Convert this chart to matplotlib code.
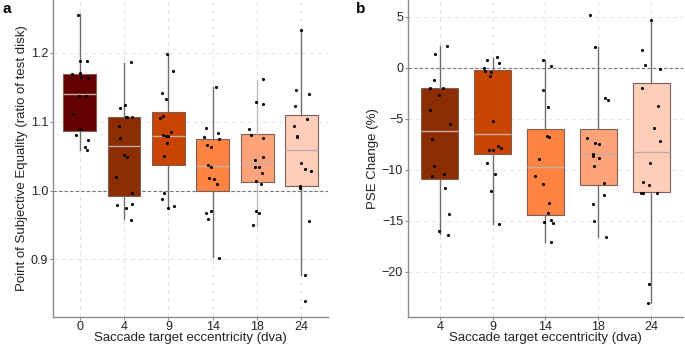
import numpy as np
import matplotlib
matplotlib.use('Agg')
import matplotlib.pyplot as plt

plt.rcParams['font.family'] = ['Liberation Sans', 'DejaVu Sans']

# ---------------- panel a: PSE ----------------
cats_a = ['0', '4', '9', '14', '18', '24']
q1_a = [1.0865, 0.9918, 1.0372, 1.000, 1.0121, 1.0063]
med_a = [1.1396, 1.0643, 1.0797, 1.0357, 1.0396, 1.0585]
q3_a = [1.170, 1.1063, 1.114, 1.0754, 1.0821, 1.1092]
lo_a = [1.059, 0.958, 0.9739, 0.9029, 0.9488, 0.8773]
hi_a = [1.257, 1.1855, 1.1986, 1.1507, 1.1614, 1.2329]

pts_a = [
    [1.2556, 1.189, 1.189, 1.170, 1.171, 1.165, 1.163, 1.137, 1.137, 1.111, 1.089, 1.080, 1.073, 1.063, 1.059],
    [1.1865, 1.1237, 1.1193, 1.107, 1.107, 1.107, 1.094, 1.077, 1.052, 1.048, 1.019, 0.9957, 0.979, 0.981, 0.9744, 0.9575],
    [1.1986, 1.174, 1.1415, 1.133, 1.108, 1.1058, 1.0855, 1.0807, 1.079, 1.0787, 1.0686, 1.0507, 0.9966, 0.987, 0.974, 0.978],
    [1.1507, 1.0913, 1.084, 1.0783, 1.0744, 1.0662, 1.0633, 1.0367, 1.0343, 1.0179, 1.0164, 1.0101, 0.9667, 0.9696, 0.9585, 0.9024],
    [1.1623, 1.128, 1.1251, 1.0889, 1.0807, 1.0758, 1.0444, 1.0483, 1.0343, 1.0343, 1.0261, 1.0135, 1.0092, 0.9696, 0.9676, 0.9498],
    [1.2329, 1.1459, 1.1401, 1.1232, 1.1043, 1.0937, 1.0787, 1.0773, 1.0396, 1.0314, 1.028, 1.0068, 1.0034, 0.956, 0.8773, 0.8396],
]
jit_a = [
    [-0.04, 0.0, 0.16, -0.17, 0.01, 0.04, 0.18, -0.01, 0.15, -0.15, 0.01, -0.08, 0.19, 0.12, 0.16],
    [0.15, 0.03, -0.10, 0.05, 0.07, 0.19, -0.11, -0.08, 0.01, 0.07, -0.19, 0.17, -0.15, 0.19, 0.05, 0.16],
    [-0.03, 0.10, -0.14, -0.06, -0.12, -0.18, 0.07, -0.13, -0.05, 0.0, -0.04, -0.10, -0.10, -0.14, -0.01, 0.12],
    [0.07, -0.15, 0.11, -0.19, 0.15, -0.14, -0.03, -0.11, -0.05, -0.09, 0.02, 0.10, -0.16, -0.05, -0.10, 0.13],
    [0.13, -0.02, 0.13, -0.19, -0.14, 0.13, -0.05, 0.13, -0.05, 0.04, 0.10, -0.02, 0.08, -0.02, 0.05, -0.10],
    [-0.01, -0.12, 0.17, -0.14, 0.13, -0.16, -0.09, -0.10, 0.0, 0.08, 0.22, -0.04, -0.04, 0.17, 0.07, 0.09],
]

# ---------------- panel b: PSE change ----------------
cats_b = ['4', '9', '14', '18', '24']
q1_b = [-10.92, -8.43, -14.41, -11.54, -12.22]
med_b = [-6.21, -6.47, -9.74, -8.50, -8.27]
q3_b = [-1.99, -0.26, -6.05, -5.98, -1.47]
lo_b = [-16.27, -15.29, -17.09, -16.60, -23.04]
hi_b = [2.09, 0.98, 0.72, 2.06, 4.71]

pts_b = [
    [2.12, 1.31, -1.18, -1.99, -1.99, -2.71, -4.15, -5.49, -6.96, -9.61, -10.59, -10.42, -11.76, -14.38, -16.05, -16.37],
    [1.01, 0.72, 0.46, 0.0, -0.36, -0.39, -0.78, -5.23, -8.07, -8.07, -7.65, -7.88, -9.31, -10.39, -12.09, -15.36],
    [0.72, 0.16, -2.16, -3.89, -6.73, -6.83, -8.92, -10.65, -11.37, -13.27, -14.25, -15.13, -14.90, -15.20, -17.06],
    [5.16, 2.06, -2.94, -3.14, -6.90, -7.39, -7.52, -8.50, -8.63, -8.86, -9.61, -11.27, -13.40, -12.48, -15.00, -16.63],
    [4.71, 1.76, 0.23, -0.10, -1.96, -3.73, -5.92, -7.19, -9.38, -11.21, -11.54, -12.29, -12.29, -12.25, -21.21, -23.04],
]
jit_b = [
    [0.14, -0.08, -0.11, -0.18, 0.07, -0.01, -0.18, 0.19, -0.14, -0.11, -0.14, 0.09, 0.10, 0.18, -0.02, 0.16],
    [0.08, -0.11, 0.12, -0.16, -0.15, -0.03, -0.04, 0.01, -0.07, 0.01, 0.10, 0.16, -0.11, 0.05, -0.03, 0.12],
    [-0.05, 0.11, -0.04, 0.04, 0.03, 0.07, -0.13, -0.19, -0.05, 0.06, 0.05, -0.02, 0.10, 0.15, 0.11],
    [-0.16, -0.07, 0.13, 0.19, -0.22, -0.07, 0.01, -0.11, -0.10, 0.01, -0.08, 0.11, -0.10, 0.11, -0.08, 0.14],
    [0.0, -0.18, -0.12, 0.16, -0.18, 0.13, 0.05, 0.16, -0.03, -0.16, -0.05, -0.19, -0.15, 0.10, -0.04, -0.06],
]

# colours per eccentricity
ecc_colors = {'0': '#640000', '4': '#8B2D00', '9': '#C84400',
              '14': '#FF8442', '18': '#FFA47A', '24': '#FFCDB8'}
whisk_a = ['#6e6e6e', '#6e6e6e', '#6e6e6e', '#6e6e6e', '#bdbdbd', '#6e6e6e']
whisk_b = ['#6e6e6e'] * 5

fig = plt.figure(figsize=(6.85, 3.45), dpi=100)
ax_a = fig.add_axes([0.0774, 0.081, 0.4016, 0.919])
ax_b = fig.add_axes([0.5956, 0.081, 0.4014, 0.919])


def draw_panel(ax, cats, q1, med, q3, lo, hi, pts, jit, wcols, width):
    pos = np.arange(len(cats))
    for i, c in enumerate(cats):
        st = [{'q1': q1[i], 'med': med[i], 'q3': q3[i],
               'whislo': lo[i], 'whishi': hi[i], 'fliers': []}]
        ax.bxp(st, positions=[pos[i]], widths=width, patch_artist=True,
               showfliers=False, showcaps=False,
               boxprops=dict(facecolor=ecc_colors[c], edgecolor='#7d5f55', linewidth=0.8),
               medianprops=dict(color='#c2aea6', linewidth=1.0),
               whiskerprops=dict(color=wcols[i], linewidth=1.0),
               zorder=2)
        ax.scatter(pos[i] + np.array(jit[i]), pts[i], s=5, color='black',
                   linewidths=0, zorder=3)
    ax.set_xticks(pos)
    ax.set_xticklabels(cats)
    ax.set_xlim(-0.6, len(cats) - 0.4)
    ax.grid(True, color='#e2e2e2', linestyle=(0, (4, 4)), linewidth=0.7, zorder=0)
    ax.set_axisbelow(True)
    for s in ['top', 'right']:
        ax.spines[s].set_visible(False)
    for s in ['left', 'bottom']:
        ax.spines[s].set_color('#8c8c8c')
        ax.spines[s].set_linewidth(1.0)
    ax.tick_params(colors='#8c8c8c', labelcolor='#222222', labelsize=9,
                   length=2, width=0.8)
    ax.tick_params(axis='x', pad=0.5)
    ax.tick_params(axis='y', pad=1.5)
    ax.set_xlabel('Saccade target eccentricity (dva)', fontsize=9.5,
                  color='#222222', labelpad=-0.5)


draw_panel(ax_a, cats_a, q1_a, med_a, q3_a, lo_a, hi_a, pts_a, jit_a, whisk_a, 0.74)
ax_a.axhline(1.0, color='#777777', linestyle=(0, (3, 2)), linewidth=0.8, zorder=1)
ax_a.set_ylim(0.816, 1.277)
ax_a.set_yticks([0.9, 1.0, 1.1, 1.2])
ax_a.set_yticklabels(['0.9', '1.0', '1.1', '1.2'])
ax_a.set_ylabel('Point of Subjective Equality (ratio of test disk)', fontsize=9.5,
                color='#222222', labelpad=2)

draw_panel(ax_b, cats_b, q1_b, med_b, q3_b, lo_b, hi_b, pts_b, jit_b, whisk_b, 0.7)
ax_b.axhline(0.0, color='#777777', linestyle=(0, (3, 2)), linewidth=0.8, zorder=1)
ax_b.set_ylim(-24.44, 6.63)
ax_b.set_yticks([-20, -15, -10, -5, 0, 5])
ax_b.set_ylabel('PSE Change (%)', fontsize=9.5, color='#222222', labelpad=2)

fig.text(0.003, 0.995, 'a', fontsize=11, fontweight='bold', va='top', ha='left')
fig.text(0.519, 0.995, 'b', fontsize=11, fontweight='bold', va='top', ha='left')

fig.savefig('out.png', dpi=100, facecolor='white')
